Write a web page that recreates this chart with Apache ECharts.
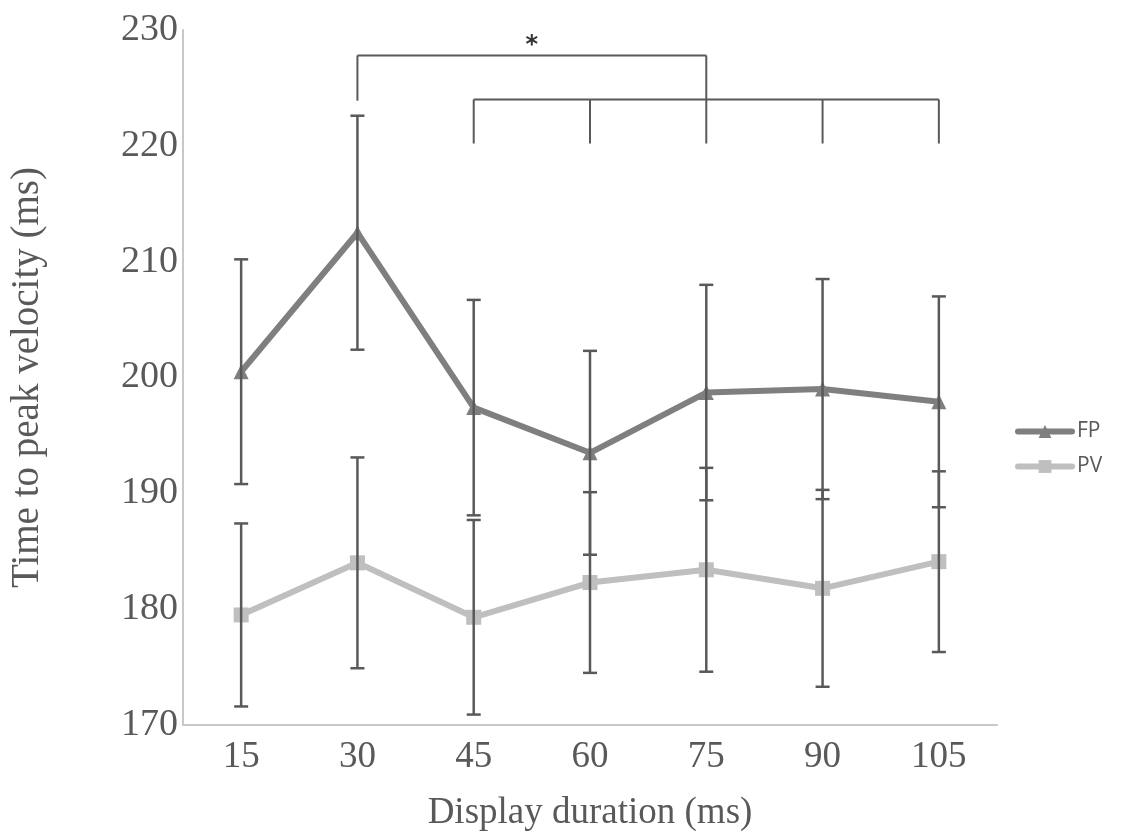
<!DOCTYPE html>
<html>
<head>
<meta charset="utf-8">
<script src="https://cdn.jsdelivr.net/npm/echarts@6/dist/echarts.min.js"></script>
<style>
  html, body { margin: 0; padding: 0; background: #fff; }
  #chart { width: 1139px; height: 839px; }
</style>
</head>
<body>
<div id="chart"></div>
<script>
const categories = ['15', '30', '45', '60', '75', '90', '105']
const yTicks = [170, 180, 190, 200, 210, 220, 230]

const fpMean = [200.5, 212.5, 197.4, 193.5, 198.7, 199.0, 197.9]
const fpErr = [9.7, 10.1, 9.3, 8.8, 9.3, 9.5, 9.1]
const pvMean = [179.5, 184.0, 179.3, 182.3, 183.4, 181.8, 184.1]
const pvErr = [7.9, 9.1, 8.4, 7.8, 8.8, 8.5, 7.8]

// significance brackets, in data units: [x1, y1, x2, y2]
const bracketSegments = [
  [1, 223.9, 1, 227.8],
  [1, 227.8, 4, 227.8],
  [4, 227.8, 4, 220.2],
  [2, 224.0, 6, 224.0],
  [2, 224.0, 2, 220.2],
  [3, 224.0, 3, 220.2],
  [5, 224.0, 5, 220.2],
  [6, 224.0, 6, 220.2]
]
// asterisk: centered between two categories, at a value
const starMark = [[1, 4, 228.6]]

const textColor = '#595959'
const serif = 'Liberation Serif'

function errData(mean, err) {
  return mean.map((m, i) => [i, m - err[i], m + err[i]])
}

function renderErr(params, api) {
  let x = api.value(0)
  let lo = api.coord([x, api.value(1)])
  let hi = api.coord([x, api.value(2)])
  let half = 7
  let style = { stroke: '#595959', lineWidth: 2.5 }
  return {
    type: 'group',
    children: [
      { type: 'line', shape: { x1: lo[0], y1: lo[1], x2: hi[0], y2: hi[1] }, style: style },
      { type: 'line', shape: { x1: lo[0] - half, y1: lo[1], x2: lo[0] + half, y2: lo[1] }, style: style },
      { type: 'line', shape: { x1: hi[0] - half, y1: hi[1], x2: hi[0] + half, y2: hi[1] }, style: style }
    ]
  }
}

let myChart = echarts.init(document.getElementById('chart'))
let option = {
  animation: false,
  backgroundColor: '#fff',
  grid: {
    left: 183,
    right: 142,
    top: 30,
    bottom: 114
  },
  legend: {
    data: ['FP', 'PV'],
    orient: 'vertical',
    left: 1010,
    top: 416,
    itemWidth: 54,
    itemHeight: 16,
    itemGap: 14,
    lineStyle: { width: 6, cap: 'round' },
    textStyle: {
      fontFamily: 'Open Sans',
      fontSize: 21,
      color: textColor
    }
  },
  xAxis: {
    type: 'category',
    data: categories,
    boundaryGap: true,
    name: 'Display duration (ms)',
    nameLocation: 'middle',
    nameGap: 70,
    nameTextStyle: { fontFamily: serif, fontSize: 37, color: textColor },
    axisLine: { lineStyle: { color: '#c8c8c8', width: 2 } },
    axisTick: { show: false },
    axisLabel: { fontFamily: serif, fontSize: 37, color: textColor, margin: 14 },
    splitLine: { show: false }
  },
  yAxis: {
    type: 'value',
    min: yTicks[0],
    max: yTicks[yTicks.length - 1],
    interval: 10,
    name: 'Time to peak velocity (ms)',
    nameLocation: 'middle',
    nameGap: 136,
    nameTextStyle: { fontFamily: serif, fontSize: 39, color: textColor },
    axisLine: { show: true, lineStyle: { color: '#c8c8c8', width: 2 } },
    axisTick: { show: false },
    axisLabel: { fontFamily: serif, fontSize: 38, color: textColor, margin: 5 },
    splitLine: { show: false }
  },
  series: [
    {
      name: 'FP',
      type: 'line',
      data: fpMean,
      symbol: 'triangle',
      symbolSize: 15,
      itemStyle: { color: '#7f7f7f' },
      lineStyle: { color: '#7f7f7f', width: 6 },
      z: 3
    },
    {
      name: 'PV',
      type: 'line',
      data: pvMean,
      symbol: 'rect',
      symbolSize: 15,
      itemStyle: { color: '#bfbfbf' },
      lineStyle: { color: '#bfbfbf', width: 6 },
      z: 2
    },
    {
      name: 'FP err',
      type: 'custom',
      data: errData(fpMean, fpErr),
      encode: { x: 0, y: [1, 2] },
      renderItem: renderErr,
      silent: true,
      z: 5
    },
    {
      name: 'PV err',
      type: 'custom',
      data: errData(pvMean, pvErr),
      encode: { x: 0, y: [1, 2] },
      renderItem: renderErr,
      silent: true,
      z: 5
    },
    {
      name: 'brackets',
      type: 'custom',
      data: bracketSegments,
      encode: { x: [0, 2], y: [1, 3] },
      renderItem: function (params, api) {
        let a = api.coord([api.value(0), api.value(1)])
        let b = api.coord([api.value(2), api.value(3)])
        return {
          type: 'line',
          shape: { x1: a[0], y1: a[1], x2: b[0], y2: b[1] },
          style: { stroke: '#595959', lineWidth: 2 }
        }
      },
      silent: true,
      z: 5
    },
    {
      name: 'star',
      type: 'custom',
      data: starMark,
      encode: { x: [0, 1], y: 2 },
      renderItem: function (params, api) {
        let a = api.coord([api.value(0), api.value(2)])
        let b = api.coord([api.value(1), api.value(2)])
        return {
          type: 'text',
          x: (a[0] + b[0]) / 2,
          y: a[1],
          style: {
            text: '*',
            fontFamily: 'DejaVu Sans',
            fontSize: 24,
            fontWeight: 'bold',
            fill: '#333',
            align: 'center',
            verticalAlign: 'middle'
          }
        }
      },
      silent: true,
      z: 5
    }
  ]
}
myChart.setOption(option)
</script>
</body>
</html>
